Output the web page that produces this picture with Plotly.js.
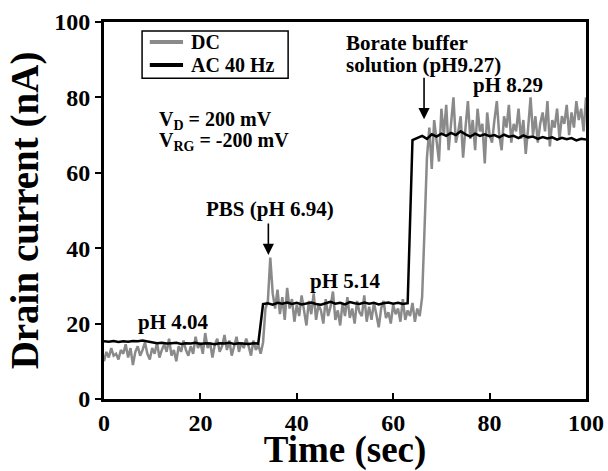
<!DOCTYPE html>
<html>
<head>
<meta charset="utf-8">
<script src="https://cdn.plot.ly/plotly-3.0.1.min.js"></script>
<style>html,body{margin:0;padding:0;background:#fff;}#chart{width:608px;height:471px;}</style>
</head>
<body>
<div id="chart"></div>
<script>
// DC measurement (0.5 s sampling)
const timeDC = [0,0.5,1,1.5,2,2.5,3,3.5,4,4.5,5,5.5,6,6.5,7,7.5,8,8.5,9,9.5,
10,10.5,11,11.5,12,12.5,13,13.5,14,14.5,15,15.5,16,16.5,17,17.5,18,18.5,19,19.5,
20,20.5,21,21.5,22,22.5,23,23.5,24,24.5,25,25.5,26,26.5,27,27.5,28,28.5,29,29.5,
30,30.5,31,31.5,32,32.5,33,33.5,34,34.5,35,35.5,36,36.5,37,37.5,38,38.5,39,39.5,
40,40.5,41,41.5,42,42.5,43,43.5,44,44.5,45,45.5,46,46.5,47,47.5,48,48.5,49,49.5,
50,50.5,51,51.5,52,52.5,53,53.5,54,54.5,55,55.5,56,56.5,57,57.5,58,58.5,59,59.5,
60,60.5,61,61.5,62,62.5,63,63.5,64,64.5,65,65.5,66,66.5,67,67.5,68,68.5,69,69.5,
70,70.5,71,71.5,72,72.5,73,73.5,74,74.5,75,75.5,76,76.5,77,77.5,78,78.5,79,79.5,
80,80.5,81,81.5,82,82.5,83,83.5,84,84.5,85,85.5,86,86.5,87,87.5,88,88.5,89,89.5,
90,90.5,91,91.5,92,92.5,93,93.5,94,94.5,95,95.5,96,96.5,97,97.5,98,98.5,99,99.5,100];
const currentDC = [10,12.5,11,13.5,11.5,12,10.5,13,12,14.5,
11,13.5,9,12.5,14,11.5,13,15,12,10.5,
13.5,12,15,11,13,14.5,12.5,16,11.5,13,
10,14,12.5,15.5,13,11.5,14,12,16.5,13.5,
15,12,17.5,13.5,15,11,14.5,16,12.5,14,
17,13,15.5,11.5,14,16.5,12.5,15,13.5,16,
14,11.5,15.5,13,14.5,12,
15,24,26,37.5,28,24,29,
22.5,27,21,29.5,24,26.5,20.5,25,22,
27.5,23,19.5,26,22.5,28,21,25,23.5,20,
26.5,22,24.5,28.5,21,23.5,19.5,25.5,22,27,
21.5,24,20,26,23,22,27.5,20.5,24.5,21,
25.5,22.5,19,24,26,21.5,23,20,25,22.5,
24,20.5,26.5,21,23.5,22,25.5,20.5,24,22,
27,45,64,72,61,74,69,63,77,70,
78,66,73,80,68,71,75,64,72,79,
69,74,66,77,71,73,62.5,76,70,68,
74,79,70,66,75,72,78,68,73,71,
77,69,74,65,72,80,70,75,68,73,
76,71,79,67,74,72,77,69,75,73,
78,70,76,72,79,74,77,71,80];

// AC 40 Hz measurement (1 s sampling)
const timeAC = [0,1,2,3,4,5,6,7,8,9,10,11,12,13,14,15,16,17,18,19,
20,21,22,23,24,25,26,27,28,29,30,31,32,33,34,35,36,37,38,39,
40,41,42,43,44,45,46,47,48,49,50,51,52,53,54,55,56,57,58,59,
60,61,62,63,64,65,66,67,68,69,70,71,72,73,74,75,76,77,78,79,
80,81,82,83,84,85,86,87,88,89,90,91,92,93,94,95,96,97,98,99,100];
const currentAC = [15.3,15.2,15.4,15.1,15.3,15.2,15.4,15.3,15.5,15.2,
15.0,14.8,14.9,14.7,14.8,14.9,14.6,14.8,14.7,14.9,
14.6,14.8,14.7,14.5,14.8,14.7,14.9,14.6,14.8,14.7,
14.6,14.8,14.7,
25.2,25.4,25.0,25.5,25.3,25.6,25.2,25.5,25.1,25.4,
25.6,25.2,25.0,25.4,25.8,25.3,25.5,25.1,25.7,25.4,
25.2,25.6,25.3,25.5,25.1,25.4,25.6,25.3,25.5,25.2,
25.4,
68.7,69.2,69.8,69.0,70.2,69.6,70.4,69.8,70.6,70.0,
71.0,70.2,69.6,70.4,69.8,70.2,69.7,70.0,69.4,70.1,
69.6,69.8,69.2,69.9,69.4,69.6,69.0,69.5,69.1,69.4,
68.8,69.3,68.9,69.2,68.6,69.0,68.8];

const seriesNames = ["DC", "AC 40 Hz"];
const seriesColors = ["#8a8a8a", "#000000"];
const xTicks = [0, 20, 40, 60, 80, 100];
const yTicks = [0, 20, 40, 60, 80, 100];

const FONT = "Liberation Serif, Times New Roman, serif";
function f(size) { return {family: FONT, size: size, color: "#000", weight: "bold"}; }

const traces = [
  {x: timeDC, y: currentDC, type: "scatter", mode: "lines", name: seriesNames[0],
   line: {color: seriesColors[0], width: 2.5}},
  {x: timeAC, y: currentAC, type: "scatter", mode: "lines", name: seriesNames[1],
   line: {color: seriesColors[1], width: 2.5}}
];

const annFont = f(21);
function txt(x, y, text, xanchor, size) {
  return {x: x, y: y, xref: "x", yref: "y", text: text, showarrow: false,
          font: size ? f(size) : annFont, xanchor: xanchor || "center", yanchor: "middle"};
}
function arrow(x, y, ay) {
  return {x: x, y: y, xref: "x", yref: "y", text: "", showarrow: true, ax: 0, ay: ay,
          arrowhead: 2, arrowsize: 1.4, arrowwidth: 1.6, arrowcolor: "#000"};
}

// hand-drawn legend box (paper coordinates)
const legBox = {x0: 0.079, x1: 0.382, y0: 0.851, y1: 0.976};
const legRows = [0.947, 0.886];
const legLineX = [0.095, 0.164];
const legTextX = 0.176;

const shapes = [
  {type: "rect", xref: "paper", yref: "paper", x0: legBox.x0, x1: legBox.x1, y0: legBox.y0, y1: legBox.y1,
   line: {color: "#000", width: 1.5}, fillcolor: "#fff", layer: "above"}
];
const legendAnns = [];
seriesNames.forEach((name, i) => {
  shapes.push({type: "line", xref: "paper", yref: "paper", x0: legLineX[0], x1: legLineX[1],
               y0: legRows[i], y1: legRows[i], line: {color: seriesColors[i], width: 4}, layer: "above"});
  legendAnns.push({xref: "paper", yref: "paper", x: legTextX, y: legRows[i], text: name, showarrow: false,
                   font: f(20), xanchor: "left", yanchor: "middle"});
});

const layout = {
  width: 608, height: 471,
  margin: {l: 104, r: 22, t: 22, b: 72, pad: 0},
  paper_bgcolor: "#fff", plot_bgcolor: "#fff",
  font: {family: FONT, color: "#000", weight: "bold"},
  showlegend: false,
  xaxis: {range: [0, 100], tickvals: xTicks, ticktext: xTicks.map(String),
          ticks: "inside", ticklen: 6, tickwidth: 2, tickcolor: "#000",
          showline: true, linewidth: 3, linecolor: "#000", mirror: true,
          showgrid: false, zeroline: false,
          tickfont: f(24),
          title: {text: "Time (sec)", font: f(37), standoff: 6}},
  yaxis: {range: [0, 100], tickvals: yTicks, ticktext: yTicks.map(String),
          ticks: "outside", ticklen: 6, tickwidth: 2, tickcolor: "#000",
          showline: true, linewidth: 3, linecolor: "#000", mirror: true,
          showgrid: false, zeroline: false,
          tickfont: f(24),
          title: {text: "Drain current (nA)", font: f(39), standoff: 4}},
  shapes: shapes,
  annotations: legendAnns.concat([
    txt(11, 74.0, "V<sub>D</sub> = 200 mV", "left", 20),
    txt(11, 68.3, "V<sub>RG</sub> = -200 mV", "left", 20),
    txt(34.5, 50.5, "PBS (pH 6.94)"),
    arrow(34.1, 38.2, -33),
    txt(14.5, 20.5, "pH 4.04"),
    txt(50, 31.2, "pH 5.14"),
    txt(49.7, 94.4, "Borate buffer", "left"),
    txt(49.7, 88.6, "solution (pH9.27)", "left"),
    arrow(66.4, 74.2, -43),
    txt(83.8, 83.3, "pH 8.29")
  ])
};

Plotly.newPlot("chart", traces, layout, {staticPlot: true, displayModeBar: false});
</script>
</body>
</html>
